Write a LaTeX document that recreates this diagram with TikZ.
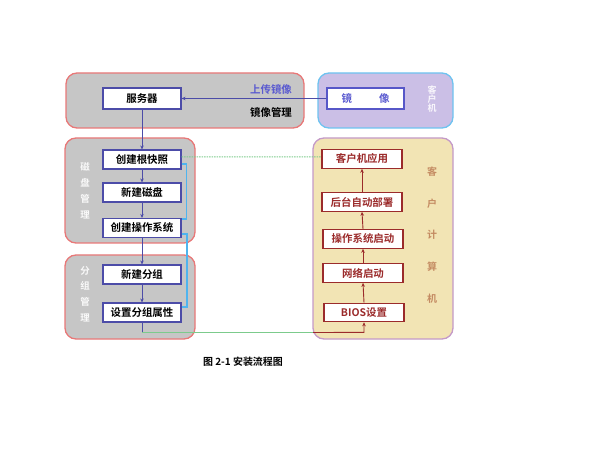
\documentclass[tikz,border=0pt]{standalone}
\usepackage{fontspec}
\setmainfont{Noto Sans CJK SC}[BoldFont={Noto Sans CJK SC Bold}]
\usetikzlibrary{arrows.meta}
\definecolor{grayfill}{HTML}{C6C6C6}
\definecolor{redborder}{HTML}{E87878}
\definecolor{lavfill}{HTML}{CBBFE6}
\definecolor{skyborder}{HTML}{6EC3F0}
\definecolor{tanfill}{HTML}{F2E4B4}
\definecolor{mauveborder}{HTML}{C49AC8}
\definecolor{navy}{HTML}{4C4CA8}
\definecolor{darkred}{HTML}{9B2B2B}
\definecolor{lblue}{HTML}{4FB4EE}
\definecolor{lgreen}{HTML}{7CCB8C}
\definecolor{brownlbl}{HTML}{C48B62}
\definecolor{uptext}{HTML}{5A5AD0}
\tikzset{
  grp/.style={rounded corners=11bp, line width=1.3bp},
  lbox/.style={draw=navy, fill=white, line width=1.1bp, minimum width=78bp, minimum height=19bp, inner sep=0pt, font=\fontsize{10.5}{12}\selectfont\bfseries, text=black},
  rbox/.style={draw=darkred, fill=white, line width=1.1bp, minimum width=80bp, minimum height=18.5bp, inner sep=0pt, font=\fontsize{10.5}{12}\selectfont\bfseries, text=darkred},
  navyarr/.style={draw=navy, line width=0.9bp, -{Stealth[length=4bp,width=3.5bp]}},
  redarr/.style={draw=darkred, line width=0.9bp, -{Stealth[length=4bp,width=3.5bp]}},
  vlabel/.style={align=center, inner sep=0pt, font=\fontsize{9.5}{16}\selectfont\bfseries},
}
\begin{document}
\begin{tikzpicture}[x=1bp,y=-1bp]
\useasboundingbox (0,0) rectangle (594,468);
% groups
\draw[grp, draw=redborder, fill=grayfill] (66,73) rectangle (304,128);
\draw[grp, draw=skyborder, fill=lavfill] (318,73) rectangle (453,128);
\draw[grp, draw=redborder, fill=grayfill] (65,138) rectangle (195,243);
\draw[grp, draw=redborder, fill=grayfill] (65,255) rectangle (195,339);
\draw[grp, draw=mauveborder, fill=tanfill] (313,138) rectangle (453,339);
\coordinate (tanleft) at (313,0);
% top texts
\node[font=\fontsize{10.5}{12}\selectfont\bfseries, text=uptext] (up) at (271,89) {上传镜像};
\node[font=\fontsize{10.5}{12}\selectfont\bfseries] (mgr) at (271,112) {镜像管理};
\node[vlabel, text=white!88!lavfill, font=\fontsize{9}{9.4}\selectfont\bfseries] (kh) at (432,99) {客\\户\\机};
\node[vlabel, text=white!92!grayfill] (dl) at (85,191) {磁\\盘\\管\\理};
\node[vlabel, text=white!92!grayfill, font=\fontsize{9.5}{15.7}\selectfont\bfseries] (gl) at (85,294) {分\\组\\管\\理};
\node[vlabel, text=brownlbl, font=\fontsize{10}{31.8}\selectfont\bfseries] (cl) at (432,235) {客\\户\\计\\算\\机};
% boxes
\node[lbox, minimum height=21bp] (srv) at (142,98.5) {服务器};
\node[lbox, minimum width=77bp, minimum height=21bp, text=uptext, draw=uptext!80!navy] (img) at (365.5,98.5) {镜\hspace{27bp}像};
\node[lbox] (snap) at (142,159.5) {创建根快照};
\node[lbox] (disk) at (142,192.5) {新建磁盘};
\node[lbox] (os) at (142,228) {创建操作系统};
\node[lbox] (ng) at (142,274.5) {新建分组};
\node[lbox] (attr) at (142,312.5) {设置分组属性};
\node[rbox] (app) at (362,159) {客户机应用};
\node[rbox] (dep) at (362,202) {后台自动部署};
\node[rbox] (boot) at (363,239) {操作系统启动};
\node[rbox] (net) at (363,273) {网络启动};
\node[rbox] (bios) at (364,312.5) {BIOS设置};
% connectors
\draw[navyarr] (img.west) -- (srv.east);
\draw[navyarr] (srv.south) -- (snap.north);
\draw[navyarr] (snap.south) -- (disk.north);
\draw[navyarr] (disk.south) -- (os.north);
\draw[navyarr] (os.south) -- (ng.north);
\draw[navyarr] (ng.south) -- (attr.north);
\draw[redarr] (bios.north) -- (net.south);
\draw[redarr] (net.north) -- (boot.south);
\draw[redarr] (boot.north) -- (dep.south);
\draw[redarr] (dep.north) -- (app.south);
\draw[draw=lblue, line width=1.3bp] ([yshift=-4.5bp]snap.east) -- ++(5,0) |- ([yshift=-1bp]os.north east);
\draw[draw=lblue, line width=1.3bp] ([yshift=-6bp]os.east) -- ++(5.5,0) |- ([yshift=5.5bp]attr.east);
\draw[draw=lgreen, line width=1bp, dash pattern=on 1.5bp off 1bp] ([yshift=2.5bp]snap.east) -- ([yshift=2bp]app.west);
\coordinate (c1) at ([yshift=-10bp]attr.south);
\coordinate (c2) at (c1 -| tanleft);
\coordinate (c3) at ([yshift=-10bp]bios.south);
\draw[draw=navy, line width=1bp] (attr.south) -- (c1);
\draw[draw=lgreen, line width=1bp] (c1) -- (c2);
\draw[redarr] (c2) -- (c3) -- (bios.south);
% caption
\node[font=\fontsize{10}{12}\selectfont\bfseries] (cap) at (243,362) {图 2-1 安装流程图};
\end{tikzpicture}
\end{document}
